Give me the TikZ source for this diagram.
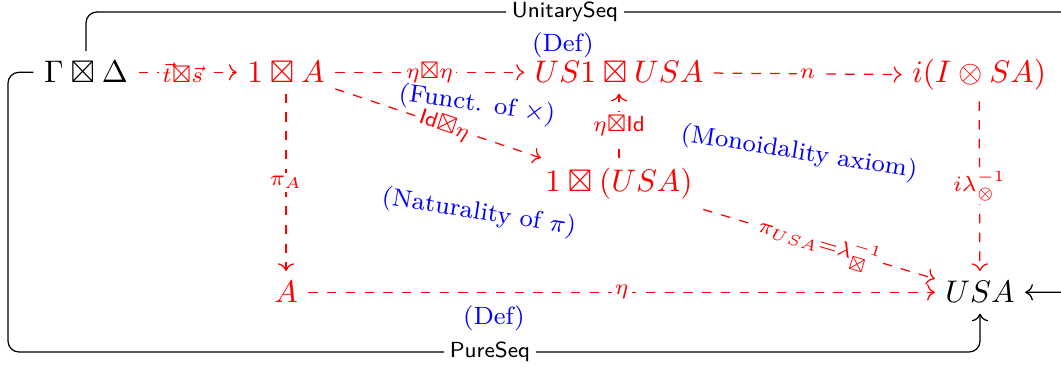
\documentclass[tikz,border=0pt]{standalone}
\usepackage{amsmath,amssymb}
\usetikzlibrary{arrows.meta}
\begin{document}
\begin{tikzpicture}[x=0.32pt,y=-0.32pt,
  obj/.style={anchor=base, inner sep=3.2pt},
  redobj/.style={obj,text=red},
  mor/.style={draw=red,dashed,-{Computer Modern Rightarrow}},
  lbl/.style={fill=white,inner sep=1pt,text=red},
  note/.style={text=blue,font=\footnotesize,inner sep=0pt},
  seq/.style={draw=black,rounded corners=3.5pt,-{Computer Modern Rightarrow}},
  seqlbl/.style={fill=white,font=\scriptsize\sffamily,inner sep=2pt}]
\useasboundingbox (0,0) rectangle (1061,369);
\clip (0,0) rectangle (1061,369);
% objects
\node[obj] (G) at (86,83) {$\Gamma\boxtimes\Delta$};
\node[redobj] (OA) at (286,83) {$1\boxtimes A$};
\node[redobj] (US) at (619,83) {$US1\boxtimes USA$};
\node[redobj] (IS) at (979,83) {$i(I\otimes SA)$};
\node[redobj] (OU) at (619,192) {$1\boxtimes(USA)$};
\node[redobj] (A) at (286,303) {$A$};
\node[obj] (U) at (980,303) {$USA$};
% red morphisms
\draw[mor] (G) -- node[lbl,pos=0.45] {$\scriptstyle\vec{t}\boxtimes\vec{s}$} (OA);
\draw[mor] (OA) -- node[lbl] {$\scriptstyle\eta\boxtimes\eta$} (US);
\draw[mor] (US) -- node[lbl] {$\scriptstyle n$} (IS);
\draw[mor] (OA) -- node[lbl,sloped,pos=0.53] {$\scriptstyle\mathsf{Id}\boxtimes\eta$} (OU);
\draw[mor] (OU) -- node[lbl] {$\scriptstyle\eta\boxtimes\mathsf{Id}$} (US);
\draw[mor] (OA) -- node[lbl] {$\scriptstyle\pi_A$} (A);
\draw[mor] (IS) -- node[lbl] {$\scriptstyle i\lambda_\otimes^{-1}$} (U);
\draw[mor] (OU) -- node[lbl,sloped] {$\scriptstyle\pi_{USA}=\lambda_\boxtimes^{-1}$} (U);
\draw[mor] (A) -- node[lbl] {$\scriptstyle\eta$} (U);
% black sequences
\coordinate (tr) at (1100,12);
\coordinate (bl) at (8,352);
\draw[seq] (G.north) |- (tr) |- (U.east);
\node[seqlbl] (us) at (565,12) {UnitarySeq};
\draw[seq] (G.west) -| (bl) -| (U.south);
\node[seqlbl] (ps) at (490,352) {PureSeq};
% blue notes
\node[note] (n1) at (563,45) {(Def)};
\node[note,rotate=-8] (n2) at (477,105) {(Funct. of $\times$)};
\node[note,rotate=-9] (n3) at (799,153) {(Monoidality axiom)};
\node[note,rotate=-9] (n4) at (479,213) {(Naturality of $\pi$)};
\node[note] (n5) at (494,318) {(Def)};
\end{tikzpicture}
\end{document}
